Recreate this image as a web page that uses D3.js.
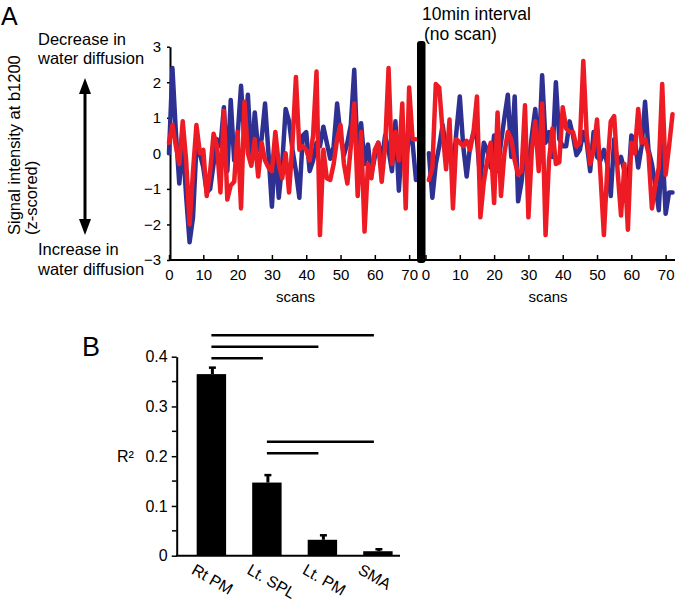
<!DOCTYPE html>
<html>
<head>
<meta charset="utf-8">
<script src="https://cdn.jsdelivr.net/npm/d3@7/dist/d3.min.js"></script>
<style>
  html, body { margin: 0; padding: 0; background: #fff; }
  svg { display: block; font-family: "Liberation Sans", Arial, sans-serif; }
</style>
</head>
<body>
<svg id="chart" width="677" height="603"></svg>
<script>
// ---------- Panel A data (z-scored signal, scans 0..72 before the break, 1..72 after) ----------
const leftBlue = [0.0, 2.4, 0.6, -0.85, 0.3, -1.2, -2.5, -1.8, 0.2, 0.0, -0.4, -1.1, -1.0, -0.3, 0.4, 0.2,
  1.3, -0.5, 1.5, -0.2, 0.5, 1.9, 0.3, 1.65, -0.2, 1.15, 0.1, 0.4, 1.4, 0.0, -1.5, 0.2, -1.25, -0.3, 1.25,
  0.9, 0.1, -0.5, -1.25, 0.5, 0.6, -0.5, -0.2, 0.3, 0.2, 0.75, 0.3, -0.15, 0.2, 1.4, 0.5, -0.05, 0.3, 0.8,
  2.35, -0.2, 0.85, -0.3, 0.25, -0.6, -0.1, 0.3, -0.2, 0.5, 0.1, -0.5, 0.9, -1.05, 0.4, -0.3, 0.5, 0.3, -0.75];
const leftRed = [0.3, 0.8, 0.2, -0.3, 0.9, -0.2, -2.0, -0.5, 0.8, 0.0, 0.1, -1.2, -0.5, 0.55, 0.2, -1.1,
  1.2, -1.3, -0.9, -0.8, 0.6, -1.55, 1.45, 0.0, -0.35, 0.4, -0.65, 0.3, -0.2, -0.4, -0.5, 0.6, -0.3, -0.7,
  0.0, -1.1, 0.3, 2.15, 0.1, 0.2, 0.1, -0.2, 0.5, 2.3, -2.3, 0.1, -0.7, -0.75, -0.3, 0.4, 0.8, -0.3, -0.85,
  0.2, 1.4, -1.2, 0.6, -2.2, -0.3, -0.7, 0.1, 0.3, -0.8, 0.2, 2.4, -0.3, 0.6, -0.2, 1.4, -1.55, 1.85, 0.4, 0.4];
const rightBlue = [0.0, -1.25, -0.3, 0.2, 0.8, 0.1, 0.4, -0.5, 0.6, 1.6, 0.2, -0.65, 0.2, 0.6, 0.4, -0.8,
  0.3, 0.1, -0.4, 0.5, -0.5, 0.3, 1.0, 1.65, -0.1, 1.6, -1.35, -0.8, 0.2, -0.4, 0.5, 1.25, -0.1, 2.2, 0.3,
  0.6, -0.1, 2.0, 0.4, 0.2, 0.2, 0.9, 0.5, -0.05, 0.1, 0.6, 0.3, -0.5, 0.6, -0.1, -0.2, 0.1, -0.3, -1.2,
  0.4, -0.3, -0.1, -0.5, -1.0, 0.5, 0.4, -0.4, 0.2, 1.45, 0.1, -0.3, -0.9, -1.6, 0.3, -1.7, -1.1, -1.1];
const rightRed = [-0.75, -0.4, 1.95, 1.85, 0.6, -0.45, 0.95, -1.55, 0.4, 0.3, 0.2, 0.35, 0.1, 0.6, 1.6,
  -1.8, -0.8, -0.2, 0.3, -1.4, 1.15, -1.2, 0.0, 0.6, 0.4, -0.2, -0.6, -0.5, 1.35, -1.8, 0.1, 0.9, -0.5,
  1.4, -2.3, -0.2, 0.7, -0.3, -0.25, 1.3, 0.7, 0.6, 0.6, 0.2, 0.3, 2.6, 0.5, -0.3, 0.1, 0.95, -0.6, -2.3,
  -0.4, 0.9, 1.05, -0.5, -1.75, -0.3, -2.15, 0.3, 0.0, 1.25, 0.3, 0.4, 0.0, -1.55, -0.9, -0.4, 1.95, -0.6,
  0.2, 1.1];
const scanTicks = [0, 10, 20, 30, 40, 50, 60, 70];
const zTicks = [-3, -2, -1, 0, 1, 2, 3];

// ---------- Panel B data ----------
const regions = ["Rt PM", "Lt. SPL", "Lt. PM", "SMA"];
const r2Values = [0.365, 0.147, 0.032, 0.009];
const r2Errors = [0.013, 0.015, 0.009, 0.004];
const r2Ticks = [0, 0.1, 0.2, 0.3, 0.4];
const r2MinorTicks = [0.05, 0.15, 0.25, 0.35];
// significance bars: [from region, to region, height in R² units]
const sigFrom = [0, 0, 0, 1, 1];
const sigTo = [3, 2, 1, 3, 2];
const sigLevel = [0.443, 0.420, 0.397, 0.229, 0.206];

const BLUE = "#2e3192", RED = "#ed1c24";
const svg = d3.select("#chart");
const FONT = 16.5;

// ================= Panel A =================
const yA = d3.scaleLinear().domain([-3, 3]).range([260, 46.7]);
const xL = d3.scaleLinear().domain([0, 72]).range([169, 416]);
const xR = d3.scaleLinear().domain([0, 72]).range([425.5, 672.5]);

const gA = svg.append("g");

// y axis
const yAxisA = d3.axisLeft(yA).tickValues(zTicks).tickSize(3).tickSizeOuter(0).tickFormat(d3.format("d"));
const yg = gA.append("g").attr("transform", "translate(170,0)").call(yAxisA);
yg.select(".domain").attr("stroke-width", 2);
yg.selectAll(".tick line").attr("stroke-width", 1.5);
yg.selectAll("text").attr("font-size", 15).attr("x", -9).attr("font-family", "Liberation Sans, Arial, sans-serif");

// x axes
function xAxis(scale, x0, x1) {
  const ax = d3.axisBottom(scale).tickValues(scanTicks).tickSizeInner(-5).tickSizeOuter(0).tickPadding(9);
  const g = gA.append("g").attr("transform", "translate(0,260)").call(ax);
  g.select(".domain").remove();
  g.selectAll(".tick line").attr("stroke-width", 1.5);
  g.selectAll("text").attr("font-size", 15).attr("font-family", "Liberation Sans, Arial, sans-serif");
  gA.append("line").attr("x1", x0).attr("x2", x1).attr("y1", 260).attr("y2", 260)
    .attr("stroke", "#000").attr("stroke-width", 2);
}
xAxis(xL, 169, 418);
xAxis(xR, 424, 675);

// lines
const lineL = d3.line().x((d, i) => xL(i)).y(d => yA(d));
const lineR = d3.line().x((d, i) => xR(i + 1)).y(d => yA(d));
const styleLine = (p, c) => p.attr("fill", "none").attr("stroke", c).attr("stroke-width", 4.5)
  .attr("stroke-linejoin", "round").attr("stroke-linecap", "round");
styleLine(gA.append("path").datum(leftBlue).attr("d", lineL), BLUE);
styleLine(gA.append("path").datum(rightBlue).attr("d", lineR), BLUE);
styleLine(gA.append("path").datum(leftRed).attr("d", lineL), RED);
styleLine(gA.append("path").datum(rightRed).attr("d", lineR), RED);

// break bar
gA.append("rect").attr("x", 417).attr("y", 41).attr("width", 8.5).attr("height", 222).attr("rx", 3).attr("fill", "#000");

// texts
gA.append("text").attr("x", 1).attr("y", 25).attr("font-size", 25).text("A");
gA.append("text").attr("x", 422).attr("y", 20).attr("font-size", 17.5).text("10min interval");
gA.append("text").attr("x", 424).attr("y", 40).attr("font-size", 17.5).text("(no scan)");
gA.append("text").attr("x", 38).attr("y", 45).attr("font-size", FONT).text("Decrease in");
gA.append("text").attr("x", 38).attr("y", 64).attr("font-size", FONT).text("water diffusion");
gA.append("text").attr("x", 38).attr("y", 255).attr("font-size", FONT).text("Increase in");
gA.append("text").attr("x", 38).attr("y", 275).attr("font-size", FONT).text("water diffusion");
gA.append("text").attr("transform", "translate(20,235) rotate(-90)").attr("font-size", FONT).text("Signal intensity at b1200");
gA.append("text").attr("transform", "translate(37,235) rotate(-90)").attr("font-size", FONT).text("(z-scored)");
gA.append("text").attr("x", (xL(0) + xL(72)) / 2 + 3).attr("y", 302).attr("text-anchor", "middle").attr("font-size", 15).text("scans");
gA.append("text").attr("x", (xR(0) + xR(72)) / 2 - 1).attr("y", 302).attr("text-anchor", "middle").attr("font-size", 15).text("scans");

// double arrow
gA.append("line").attr("x1", 85).attr("x2", 85).attr("y1", 90).attr("y2", 223).attr("stroke", "#000").attr("stroke-width", 3);
gA.append("path").attr("d", "M85,78 L79,94 L91,94 Z").attr("fill", "#000");
gA.append("path").attr("d", "M85,235 L79,219 L91,219 Z").attr("fill", "#000");

// ================= Panel B =================
const yB = d3.scaleLinear().domain([0, 0.4]).range([555.7, 356.7]);
const xB = d3.scaleBand().domain(regions).range([182.8, 406.5]).paddingInner(0.47).paddingOuter(0.25);
const gB = svg.append("g");

gB.append("text").attr("x", 82).attr("y", 356).attr("font-size", 27).text("B");

const yAxisB = d3.axisLeft(yB).tickValues(r2Ticks).tickSize(5).tickSizeOuter(0)
  .tickFormat(d => d === 0 ? "0" : d3.format(".1f")(d));
const ygB = gB.append("g").attr("transform", "translate(176.7,0)").call(yAxisB);
ygB.select(".domain").attr("stroke-width", 2);
ygB.selectAll(".tick line").attr("stroke-width", 1.5);
ygB.selectAll("text").attr("font-size", 16).attr("x", -9).attr("font-family", "Liberation Sans, Arial, sans-serif");
gB.selectAll(".minor").data(r2MinorTicks).enter().append("line")
  .attr("x1", 172).attr("x2", 176.7).attr("y1", d => yB(d)).attr("y2", d => yB(d))
  .attr("stroke", "#000").attr("stroke-width", 1.5);
gB.append("line").attr("x1", 176).attr("x2", 400).attr("y1", yB(0)).attr("y2", yB(0)).attr("stroke", "#000").attr("stroke-width", 2);

gB.append("text").attr("x", 117).attr("y", 462).attr("font-size", 16).text("R²");

// bars
gB.selectAll(".bar").data(regions).enter().append("rect")
  .attr("x", d => xB(d)).attr("width", xB.bandwidth())
  .attr("y", (d, i) => yB(r2Values[i])).attr("height", (d, i) => yB(0) - yB(r2Values[i]))
  .attr("fill", "#000");
// error bars (upper only)
gB.selectAll(".err").data(regions).enter().append("line")
  .attr("x1", d => xB(d) + xB.bandwidth() / 2 + 1).attr("x2", d => xB(d) + xB.bandwidth() / 2 + 1)
  .attr("y1", (d, i) => yB(r2Values[i])).attr("y2", (d, i) => yB(r2Values[i] + r2Errors[i]))
  .attr("stroke", "#000").attr("stroke-width", 3);
gB.selectAll(".cap").data(regions).enter().append("line")
  .attr("x1", d => xB(d) + xB.bandwidth() / 2 - 2.5).attr("x2", d => xB(d) + xB.bandwidth() / 2 + 4.5)
  .attr("y1", (d, i) => yB(r2Values[i] + r2Errors[i])).attr("y2", (d, i) => yB(r2Values[i] + r2Errors[i]))
  .attr("stroke", "#000").attr("stroke-width", 2.5);

// significance lines
gB.selectAll(".sig").data(sigLevel).enter().append("line")
  .attr("x1", (d, i) => xB(regions[sigFrom[i]]) + xB.bandwidth() / 2)
  .attr("x2", (d, i) => xB(regions[sigTo[i]]) + xB.bandwidth() / 2 - 4)
  .attr("y1", d => yB(d)).attr("y2", d => yB(d))
  .attr("stroke", "#000").attr("stroke-width", 2.5);

// category labels
gB.selectAll(".cat").data(regions).enter().append("text")
  .attr("transform", d => `translate(${xB(d) + xB.bandwidth() / 2 - 21},573) rotate(30)`)
  .attr("font-size", 16).text(d => d);
</script>
</body>
</html>
